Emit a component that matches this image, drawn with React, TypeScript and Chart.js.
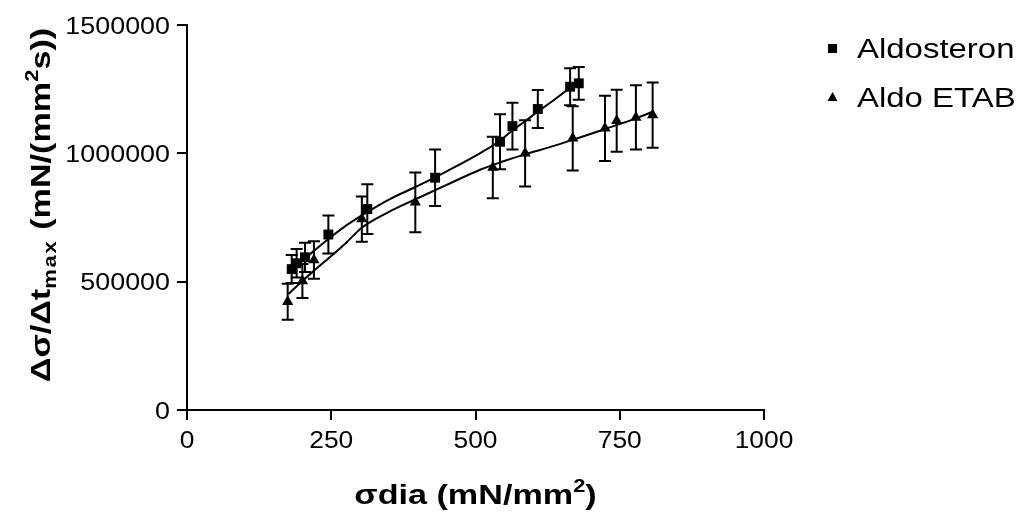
import React, { useEffect, useRef } from 'react';
import { Chart, registerables } from 'chart.js';

Chart.register(...registerables);

// ---- data ----
const seriesNames = ['Aldosteron', 'Aldo ETAB'];
const xTicks = [0, 250, 500, 750, 1000];
const yTicks = [0, 500000, 1000000, 1500000];

const aldoX = [181.5, 190, 204.5, 245, 312.5, 430, 542.5, 564, 608, 664, 679];
const aldoY = [549000, 571500, 595000, 683700, 783000, 905000, 1045000, 1106000, 1172700, 1259600, 1272800];
const aldoErr = [54500, 55700, 57000, 74000, 97000, 110000, 107000, 91000, 74000, 72000, 64000];

const etabX = [174.5, 200, 220, 303, 395.7, 530, 586, 668.5, 724.4, 744.7, 778, 807];
const etabY = [422000, 502600, 584000, 744000, 809000, 945000, 1000000, 1058500, 1097500, 1127000, 1140000, 1149000];
const etabErr = [70000, 66000, 73000, 88000, 116000, 120000, 129000, 125000, 127000, 121000, 125000, 127000];

const aldoFitX = [181, 200, 220, 250, 280, 313, 350, 400, 450, 509, 543, 564, 586, 608, 630, 660, 679];
const aldoFitY = [545000, 582000, 620000, 675000, 725000, 772000, 820000, 873000, 930000, 1002000, 1050000, 1090000, 1125000, 1163000, 1198000, 1248000, 1276000];

const etabFitX = [176, 200, 225, 250, 275, 304, 350, 397, 450, 509, 543, 587, 630, 669, 725, 779, 805];
const etabFitY = [452000, 503000, 552000, 600000, 650000, 712000, 772000, 822000, 877000, 937000, 965000, 997000, 1025000, 1053000, 1095000, 1137000, 1160000];

const FONT = '"Liberation Sans", Arial, sans-serif';

type Piece = { text: string; size: number; dy: number; spacing?: number };

function drawStretched(ctx: CanvasRenderingContext2D, text: string, x: number, y: number, align: string, sx: number, font: string) {
  ctx.save();
  ctx.font = font;
  const w = ctx.measureText(text).width * sx;
  let left = x;
  if (align === 'center') left = x - w / 2;
  else if (align === 'right') left = x - w;
  ctx.translate(left, y);
  ctx.scale(sx, 1);
  ctx.textAlign = 'left';
  ctx.textBaseline = 'alphabetic';
  ctx.fillText(text, 0, 0);
  ctx.restore();
}

function drawRich(ctx: CanvasRenderingContext2D, pieces: Piece[], cx: number, baseY: number, sx: number) {
  ctx.save();
  const widths = pieces.map((p) => {
    ctx.font = `bold ${p.size}px ${FONT}`;
    (ctx as any).letterSpacing = `${p.spacing || 0}px`;
    return ctx.measureText(p.text).width * sx;
  });
  const total = widths.reduce((a, b) => a + b, 0);
  let x = cx - total / 2;
  pieces.forEach((p, i) => {
    ctx.save();
    ctx.font = `bold ${p.size}px ${FONT}`;
    (ctx as any).letterSpacing = `${p.spacing || 0}px`;
    ctx.translate(x, baseY + p.dy);
    ctx.scale(sx, 1);
    ctx.textAlign = 'left';
    ctx.textBaseline = 'alphabetic';
    ctx.fillText(p.text, 0, 0);
    ctx.restore();
    x += widths[i];
  });
  ctx.restore();
}

const decorPlugin = {
  id: 'decor',
  beforeDatasetsDraw(chart: any) {
    const { ctx, scales } = chart;
    const xs = scales.x;
    const ys = scales.y;
    ctx.save();
    ctx.strokeStyle = '#000';
    ctx.lineWidth = 2;
    const draw = (X: number[], Y: number[], E: number[]) => {
      X.forEach((xv, i) => {
        const px = xs.getPixelForValue(xv);
        const top = ys.getPixelForValue(Y[i] + E[i]);
        const bot = ys.getPixelForValue(Y[i] - E[i]);
        ctx.beginPath();
        ctx.moveTo(px, top);
        ctx.lineTo(px, bot);
        ctx.moveTo(px - 6, top);
        ctx.lineTo(px + 6, top);
        ctx.moveTo(px - 6, bot);
        ctx.lineTo(px + 6, bot);
        ctx.stroke();
      });
    };
    draw(aldoX, aldoY, aldoErr);
    draw(etabX, etabY, etabErr);
    ctx.restore();
  },
  afterDraw(chart: any) {
    const { ctx, scales } = chart;
    const xs = scales.x;
    const ys = scales.y;
    ctx.save();
    ctx.fillStyle = '#000';
    const tickFont = `24px ${FONT}`;
    // tick labels
    xTicks.forEach((v) => {
      drawStretched(ctx, String(v), xs.getPixelForValue(v), 448, 'center', 1.1, tickFont);
    });
    yTicks.forEach((v) => {
      drawStretched(ctx, String(v), 170, ys.getPixelForValue(v) + 8.5, 'right', 1.12, tickFont);
    });
    // x title
    drawRich(ctx, [
      { text: 'σdia (mN/mm', size: 28, dy: 0 },
      { text: '2', size: 18, dy: -12 },
      { text: ')', size: 28, dy: 0 },
    ], (xs.left + xs.right) / 2, 504, 1.22);
    // y title
    ctx.save();
    ctx.translate(40, 205);
    ctx.rotate(-Math.PI / 2);
    drawRich(ctx, [
      { text: 'Δσ/Δt', size: 28, dy: 0 },
      { text: 'max', size: 18, dy: 6, spacing: 1.5 },
      { text: ' (mN/(mm', size: 28, dy: 0 },
      { text: '2', size: 18, dy: -12 },
      { text: 's))', size: 28, dy: 0 },
    ], 0, 10, 1.22);
    ctx.restore();
    // legend
    const legFont = `27px ${FONT}`;
    ctx.fillRect(828, 44, 9, 9);
    drawStretched(ctx, seriesNames[0], 857, 58, 'left', 1.22, legFont);
    ctx.beginPath();
    ctx.moveTo(832.5, 92);
    ctx.lineTo(837.5, 101);
    ctx.lineTo(827.5, 101);
    ctx.closePath();
    ctx.fill();
    drawStretched(ctx, seriesNames[1], 857, 107, 'left', 1.22, legFont);
    ctx.restore();
  },
};

export default function App() {
  const ref = useRef<HTMLCanvasElement>(null);
  useEffect(() => {
    document.body.style.margin = '0';
    const canvas = ref.current!;
    const axisCommon = {
      type: 'linear' as const,
      ticks: { display: false },
      grid: { display: true, drawOnChartArea: false, drawTicks: true, tickLength: 10, color: '#000', lineWidth: 2 },
      border: { display: true, color: '#000', width: 2 },
    };
    const chart = new Chart(canvas, {
      type: 'scatter',
      data: {
        datasets: [
          {
            label: seriesNames[0] + ' fit',
            data: aldoFitX.map((x, i) => ({ x, y: aldoFitY[i] })),
            showLine: true,
            pointRadius: 0,
            borderColor: '#000',
            borderWidth: 2,
            cubicInterpolationMode: 'monotone',
          } as any,
          {
            label: seriesNames[1] + ' fit',
            data: etabFitX.map((x, i) => ({ x, y: etabFitY[i] })),
            showLine: true,
            pointRadius: 0,
            borderColor: '#000',
            borderWidth: 2,
            cubicInterpolationMode: 'monotone',
          } as any,
          {
            label: seriesNames[0],
            data: aldoX.map((x, i) => ({ x, y: aldoY[i] })),
            pointStyle: 'rect',
            pointRadius: 7,
            backgroundColor: '#000',
            borderColor: '#000',
            borderWidth: 0,
          },
          {
            label: seriesNames[1],
            data: etabX.map((x, i) => ({ x, y: etabY[i] })),
            pointStyle: 'triangle',
            pointRadius: 6.5,
            backgroundColor: '#000',
            borderColor: '#000',
            borderWidth: 0,
          },
        ],
      },
      options: {
        animation: false,
        responsive: false,
        events: [],
        layout: { padding: { top: 25, right: 258, bottom: 0, left: 0 } },
        plugins: { legend: { display: false }, tooltip: { enabled: false }, title: { display: false } },
        scales: {
          x: {
            ...axisCommon,
            min: 0,
            max: 1000,
            afterBuildTicks: (s: any) => { s.ticks = xTicks.map((value) => ({ value })); },
            afterFit: (s: any) => { s.height = 105; },
          },
          y: {
            ...axisCommon,
            min: 0,
            max: 1500000,
            afterBuildTicks: (s: any) => { s.ticks = yTicks.map((value) => ({ value })); },
            afterFit: (s: any) => { s.width = 187; },
          },
        },
      } as any,
      plugins: [decorPlugin],
    });
    return () => chart.destroy();
  }, []);
  return (
    <div style={{ width: 1022, height: 515, position: 'relative', background: '#fff' }}>
      <canvas ref={ref} width={1022} height={515} style={{ display: 'block', width: 1022, height: 515 }} />
    </div>
  );
}
